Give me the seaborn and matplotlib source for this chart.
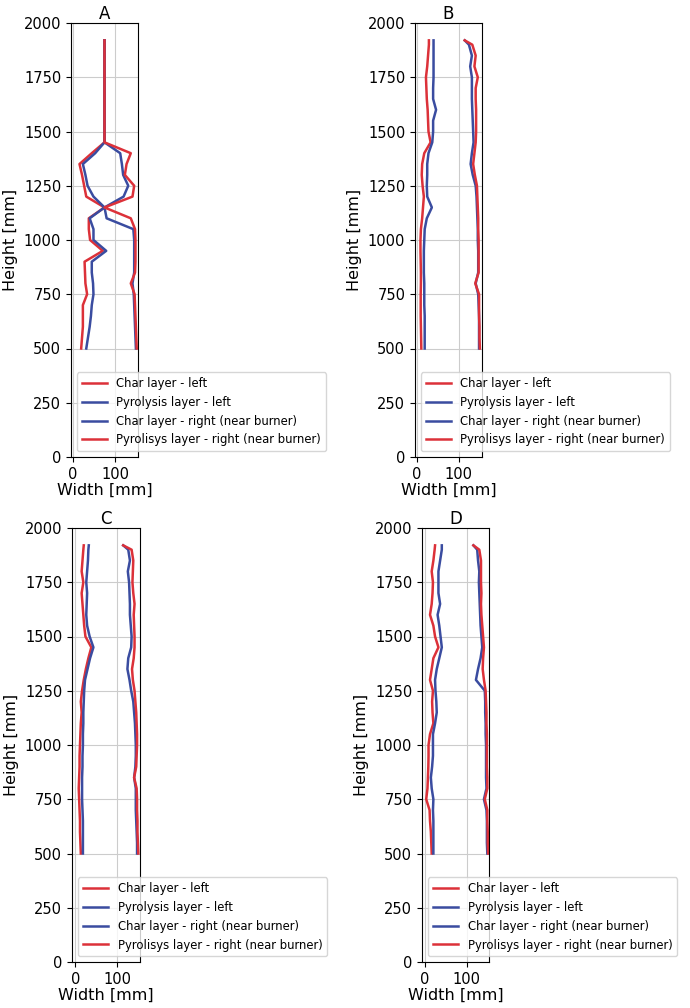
import matplotlib
matplotlib.use("Agg")
import matplotlib.pyplot as plt
import seaborn as sns

# heights along the wall [mm]
heights = [500, 550, 600, 650, 700, 750, 800, 850, 900, 950, 1000, 1050, 1100, 1150, 1200,
           1250, 1300, 1350, 1400, 1450, 1500, 1550, 1600, 1650, 1700, 1750, 1800, 1850, 1900, 1920]

# panel A
a_char_left = [20, 22, 24, 24, 24, 34, 30, 29, 28, 71, 41, 38, 38, 75, 32,
               27, 22, 16, 45, 75, 75, 75, 75, 75, 75, 75, 75, 75, 75, 75]
a_pyro_left = [32, 36, 40, 43, 45, 49, 48, 45, 45, 79, 49, 49, 40, 75, 49,
               35, 30, 24, 53, 75, 75, 75, 75, 75, 75, 75, 75, 75, 75, 75]
a_char_right = [149, 148, 147, 146, 145, 144, 141, 145, 145, 145, 145, 143, 80, 75, 120,
                131, 119, 116, 112, 75, 75, 75, 75, 75, 75, 75, 75, 75, 75, 75]
a_pyro_right = [151, 150, 149, 148, 147, 146, 137, 147, 148, 148, 148, 147, 137, 75, 141,
                145, 123, 127, 137, 75, 75, 75, 75, 75, 75, 75, 75, 75, 75, 75]

# panel B
b_char_left = [11, 10.5, 10, 9.5, 9.5, 9.5, 10, 10, 9.5, 9, 9, 10, 13, 15, 17,
               14, 12, 13, 18, 33, 28, 27, 26, 24, 23, 22, 25, 27, 29, 29]
b_pyro_left = [19, 19, 19, 19, 18, 18, 18, 17, 17, 17, 18, 19, 24, 36, 25,
               24, 25, 25, 28, 37, 39, 39, 46, 39, 39, 40, 40, 40, 40, 40]
b_char_right = [148, 148, 148, 148, 147, 146, 140, 146, 146, 146, 145, 145, 144, 143, 142,
                140, 133, 128, 131, 135, 134, 133, 132, 131, 131, 131, 127, 131, 124, 114]
b_pyro_right = [150, 149, 149, 148, 148, 148, 139, 147, 147, 147, 147, 146, 146, 145, 144,
                143, 138, 134, 137, 140, 141, 141, 141, 140, 140, 145, 137, 140, 132, 114]

# panel C
c_char_left = [13, 12, 11, 11, 10, 9, 8, 9, 10, 10, 11, 12, 13, 15, 13,
               16, 20, 25, 31, 38, 24, 21, 19, 17, 15, 19, 15, 17, 19, 20]
c_pyro_left = [18, 18, 18, 18, 17, 16, 16, 16, 17, 17, 18, 18, 19, 19, 20,
               21, 23, 29, 35, 43, 34, 28, 26, 27, 28, 26, 28, 30, 31, 32]
c_char_right = [147, 147, 146, 145, 144, 144, 144, 140, 143, 144, 144, 143, 142, 140, 138,
                133, 129, 124, 126, 133, 134, 132, 130, 130, 129, 128, 125, 130, 126, 114]
c_pyro_right = [150, 149, 148, 148, 147, 147, 146, 140, 145, 146, 147, 147, 146, 145, 143,
                141, 137, 135, 139, 141, 141, 140, 139, 141, 138, 136, 137, 138, 134, 114]

# panel D
d_char_left = [17, 16, 15, 13, 12, 4, 7, 8, 9, 9.5, 9.5, 13, 21, 19, 18,
               20, 13, 17, 21, 33, 25, 21, 13, 17, 19, 20, 17, 21, 24, 25]
d_pyro_left = [21, 21, 21, 21, 20, 21, 17, 15, 18, 20, 20, 20, 25, 29, 28,
               26, 25, 29, 35, 41, 38, 35, 31, 37, 33, 33, 33, 37, 41, 41]
d_char_right = [149, 148, 148, 148, 147, 141, 147, 146, 146, 146, 146, 145, 145, 144, 144,
                143, 122, 127, 133, 137, 135, 133, 132, 131, 130, 129, 130, 127, 125, 116]
d_pyro_right = [151, 150, 150, 149, 149, 143, 149, 149, 148, 148, 148, 148, 147, 147, 146,
                145, 141, 138, 139, 141, 139, 137, 135, 134, 135, 134, 134, 134, 130, 116]

panels = ["A", "B", "C", "D"]
data = {
    "A": [a_char_left, a_pyro_left, a_char_right, a_pyro_right],
    "B": [b_char_left, b_pyro_left, b_char_right, b_pyro_right],
    "C": [c_char_left, c_pyro_left, c_char_right, c_pyro_right],
    "D": [d_char_left, d_pyro_left, d_char_right, d_pyro_right],
}
labels = ["Char layer - left", "Pyrolysis layer - left",
          "Char layer - right (near burner)", "Pyrolisys layer - right (near burner)"]

red = "#dc3139"
blue = "#3a4ca0"
colors = [red, blue, blue, red]

# axes boxes in figure pixels: left, top, width, height, xlim
boxes = {
    "A": (71, 23, 67, 434, (-4, 154)),
    "B": (415, 23, 67, 434, (-4, 155)),
    "C": (72, 528, 68, 434, (-8, 154)),
    "D": (422, 528, 67, 434, (-6, 153)),
}

W, H = 690, 1008
fig = plt.figure(figsize=(W / 100, H / 100), dpi=100)

for p in panels:
    l, t, w, h, xlim = boxes[p]
    ax = fig.add_axes([l / W, (H - t - h) / H, w / W, h / H])
    for vals, lab, col in zip(data[p], labels, colors):
        sns.lineplot(x=vals, y=heights, sort=False, estimator=None, color=col,
                     linewidth=1.8, label=lab, ax=ax)
    ax.set_xlim(*xlim)
    ax.set_ylim(0, 2000)
    ax.set_xticks([0, 100])
    ax.set_yticks(range(0, 2001, 250))
    ax.grid(True, color="#cccccc", linewidth=0.8)
    ax.set_axisbelow(True)
    ax.tick_params(labelsize=10.5)
    ax.set_title(p, fontsize=12, pad=3)
    ax.set_xlabel("Width [mm]", fontsize=11.5, labelpad=1)
    ax.set_ylabel("Height [mm]", fontsize=11.5)
    leg = ax.legend(loc="lower left", fontsize=8.4, handlelength=2.2)

fig.savefig("out.png", dpi=100)
